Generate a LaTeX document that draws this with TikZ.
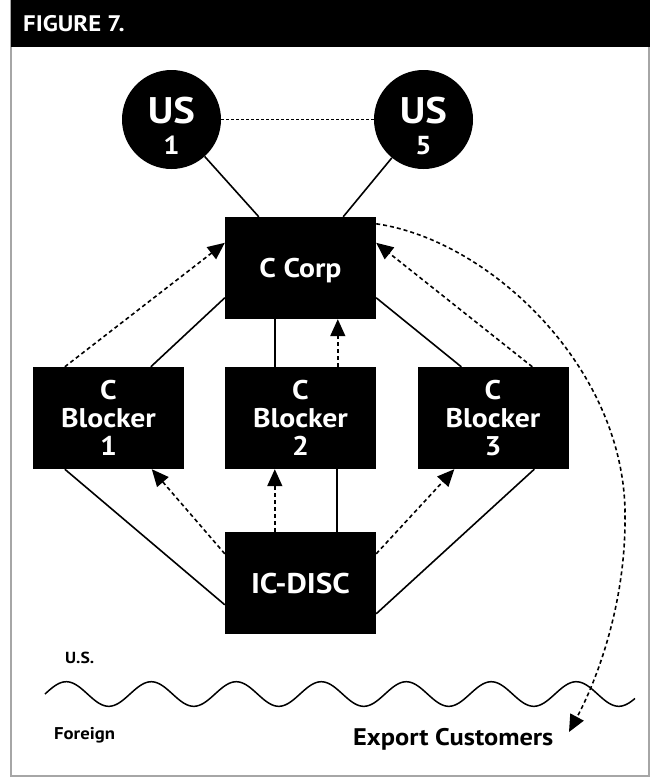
\documentclass[tikz,border=0pt]{standalone}
\usepackage{fontspec}
\setmainfont[FakeStretch=1.1]{PT Sans}
\usetikzlibrary{arrows.meta,calc}

\begin{document}
\begin{tikzpicture}[x=1pt,y=-1pt,
  box/.style={rectangle,fill=black,text=white,minimum width=151pt,minimum height=102pt,
    inner sep=0pt,align=center,font=\bfseries\fontsize{27}{28.3}\selectfont},
  onebox/.style={box,text depth=0pt},
  disk/.style={circle,fill=black,minimum size=99pt,inner sep=0pt},
  bigtxt/.style={text=white,inner sep=0pt,anchor=base,font=\bfseries\fontsize{37}{37}\selectfont},
  numtxt/.style={text=white,inner sep=0pt,anchor=base,font=\bfseries\fontsize{26}{26}\selectfont},
  link/.style={line width=1.6pt},
  flow/.style={line width=1.6pt,dash pattern=on 4pt off 3pt,-{Triangle[length=17pt,width=15pt]}},
  tie/.style={line width=1.5pt,dash pattern=on 3pt off 2pt},
  side/.style={inner sep=0pt,anchor=base west,font=\bfseries\fontsize{16}{16}\selectfont},
]
\useasboundingbox (0,0) rectangle (652,777);

% frame and title bar
\draw[gray!70,line width=1.5pt] (11,0) rectangle (649,776);
\fill[black] (10.5,0) rectangle (650,47);
\node[text=white,inner sep=0pt,anchor=base west,font=\bfseries\fontsize{22.5}{22.5}\selectfont]
  (title) at (23,31.7) {FIGURE 7.};

% shareholders
\node[disk] (us1) at (171.5,119.5) {};
\node[disk] (us5) at (423.5,119.5) {};
\node[bigtxt] (us1a) at ($(us1)+(0,4)$) {US};
\node[numtxt] (us1b) at ($(us1)+(0,35)$) {1};
\node[bigtxt] (us5a) at ($(us5)+(0,4)$) {US};
\node[numtxt] (us5b) at ($(us5)+(0,35)$) {5};

% entities
\node[onebox] (corp) at (300.5,268) {C Corp};
\node[box] (b1) at (108.5,418) {C\\Blocker\\1};
\node[box] (b2) at (300.5,418) {C\\Blocker\\2};
\node[box] (b3) at (493,418) {C\\Blocker\\3};
\node[onebox,font=\bfseries\fontsize{28.5}{28.5}\selectfont] (disc) at (300.5,583) {IC-DISC};

% ownership and flows
\draw[tie] (us1) -- (us5);
\draw[link] (us1) -- ($(corp.north west)+(34,0)$);
\draw[link] (us5) -- ($(corp.north east)+(-33,0)$);

\draw[link] ($(corp.north west)+(0,81)$) -- ($(b1.north west)+(118,0)$);
\draw[flow] ($(b1.north west)+(32,0)$) -- ($(corp.north west)+(0,26)$);
\draw[link] ($(corp.south west)+(50,0)$) -- ($(b2.north west)+(50,0)$);
\draw[flow] ($(b2.north west)+(113,0)$) -- ($(corp.south west)+(113,0)$);
\draw[link] ($(corp.north east)+(0,81)$) -- ($(b3.north west)+(44,0)$);
\draw[flow] ($(b3.north west)+(115,0)$) -- ($(corp.north east)+(0,26)$);

\draw[flow] ($(disc.north west)+(0,22)$) -- ($(b1.south west)+(119,0)$);
\draw[link] ($(b1.south west)+(32,0)$) -- ($(disc.north west)+(0,73)$);
\draw[flow] ($(disc.north west)+(50,0)$) -- ($(b2.south west)+(50,0)$);
\draw[link] ($(b2.south west)+(112,0)$) -- ($(disc.north west)+(112,0)$);
\draw[flow] ($(disc.north east)+(0,22)$) -- ($(b3.south west)+(37,0)$);
\draw[link] ($(b3.south west)+(117,0)$) -- ($(disc.north east)+(0,82)$);

% border between domestic and foreign
\draw[line width=1.5pt] plot[domain=45:635,samples=300,smooth]
  (\x,{694-12.3*sin((\x-45)/85*360)});
\node[side] (us) at (65,663.5) {U.S.};
\node[side,font=\bfseries\fontsize{17}{17}\selectfont] (foreign) at (54,739.5) {Foreign};
\node[inner sep=0pt,anchor=base west,font=\bfseries\fontsize{24}{24}\selectfont]
  (exp) at (353,745) {Export Customers};
\coordinate (exptip) at (569,732);

\draw[flow] ($(corp.north east)+(0,7)$) .. controls (490,240) and (628,370) .. (625,520)
  .. controls (625,605) and (597,680) .. (exptip);
\end{tikzpicture}
\end{document}
